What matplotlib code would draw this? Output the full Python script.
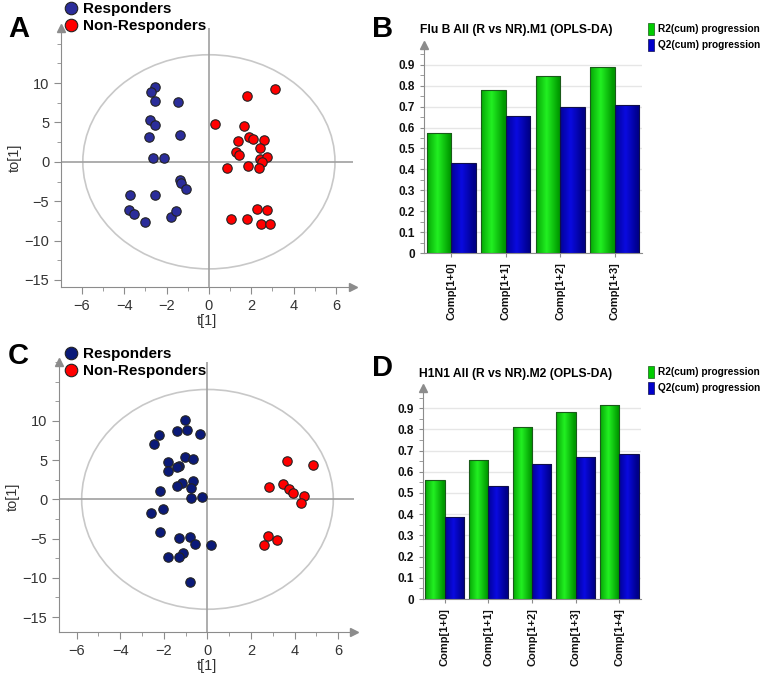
import matplotlib
matplotlib.use('Agg')
import matplotlib.pyplot as plt
from matplotlib.patches import Ellipse
from matplotlib.lines import Line2D
from matplotlib.patches import Rectangle
from matplotlib.ticker import MultipleLocator
import numpy as np

plt.rcParams['font.family'] = ['Liberation Sans', 'DejaVu Sans']

# panel A - Flu B score plot
a_resp_t = [-2.55, -2.74, -2.55, -1.45, -2.79, -2.55, -2.82, -1.38, -2.63, -2.12,
            -1.35, -1.30, -1.06, -3.74, -2.55, -3.78, -3.53, -3.01, -1.81, -1.53]
a_resp_to = [9.45, 8.86, 7.76, 7.55, 5.35, 4.67, 3.10, 3.40, 0.44, 0.44,
             -2.36, -2.64, -3.50, -4.16, -4.16, -6.07, -6.66, -7.64, -7.06, -6.20]
a_non_t = [3.13, 1.80, 0.29, 1.67, 1.88, 2.07, 1.39, 2.61, 2.39, 1.27, 1.41, 2.42,
           2.72, 2.52, 1.84, 2.37, 0.85, 2.25, 2.74, 1.06, 1.80, 2.47, 2.88]
a_non_to = [9.23, 8.31, 4.84, 4.50, 3.10, 2.93, 2.60, 2.81, 1.75, 1.20, 0.82, 0.40,
            0.57, 0.02, -0.49, -0.84, -0.84, -6.03, -6.16, -7.22, -7.30, -7.94, -7.94]

# panel C - H1N1 score plot
c_resp_t = [-1.03, -1.38, -0.94, -0.34, -2.22, -2.45, -1.05, -0.65, -1.83, -1.32,
            -1.40, -1.79, -0.65, -1.18, -1.40, -0.77, -2.19, -0.77, -0.27, -2.05,
            -2.60, -2.19, -1.31, -0.80, -0.56, 0.18, -1.14, -1.32, -1.81, -0.82]
c_resp_to = [10.08, 8.68, 8.81, 8.34, 8.25, 7.06, 5.36, 5.15, 4.72, 4.30,
             4.16, 3.66, 2.29, 2.12, 1.74, 1.44, 1.10, 0.12, 0.33, -1.19,
             -1.78, -4.21, -4.93, -4.80, -5.72, -5.80, -6.87, -7.33, -7.37, -10.57]
c_non_t = [3.67, 4.82, 2.84, 3.48, 3.73, 3.92, 4.44, 4.29, 2.79, 3.17, 2.60]
c_non_to = [4.85, 4.42, 1.53, 1.91, 1.31, 0.84, 0.46, -0.52, -4.66, -5.13, -5.77]

# panel B / D - model progression
b_comps = ['Comp[1+0]', 'Comp[1+1]', 'Comp[1+2]', 'Comp[1+3]']
b_r2 = [0.576, 0.779, 0.846, 0.892]
b_q2 = [0.430, 0.657, 0.698, 0.708]
d_comps = ['Comp[1+0]', 'Comp[1+1]', 'Comp[1+2]', 'Comp[1+3]', 'Comp[1+4]']
d_r2 = [0.560, 0.657, 0.813, 0.880, 0.913]
d_q2 = [0.387, 0.531, 0.637, 0.670, 0.682]

AXC = '#8c8c8c'
W, H = 769, 673

fig = plt.figure(figsize=(W/100, H/100), dpi=100)


def fr(x0, y0, x1, y1):
    # pixel box -> figure fraction rect
    return [x0/W, 1-y1/H, (x1-x0)/W, (y1-y0)/H]


def arrows(ax):
    ax.plot([0], [1], marker='^', color=AXC, ms=6, transform=ax.transAxes, clip_on=False)


def score_plot(ax, rt, rto, nt, nto, blue, xlim, ylim, ell):
    ax.add_patch(Ellipse((0, 0), 2*ell[0], 2*ell[1], fill=False, ec='#c8c8c8', lw=1.2))
    ax.axhline(0, color='#a0a0a0', lw=1.2)
    ax.axvline(0, color='#a0a0a0', lw=1.2)
    ax.scatter(rt, rto, s=46, c=blue, edgecolors='#222222', linewidths=0.8, zorder=3)
    ax.scatter(nt, nto, s=46, c='#ff0000', edgecolors='#222222', linewidths=0.8, zorder=3)
    ax.set_xlim(*xlim)
    ax.set_ylim(*ylim)
    ax.set_xticks([-6, -4, -2, 0, 2, 4, 6])
    ax.set_yticks([-15, -10, -5, 0, 5, 10])
    ax.xaxis.set_minor_locator(MultipleLocator(1))
    ax.yaxis.set_minor_locator(MultipleLocator(2.5))
    for s in ['top', 'right']:
        ax.spines[s].set_visible(False)
    for s in ['left', 'bottom']:
        ax.spines[s].set_color(AXC)
    ax.tick_params(which='both', colors=AXC, labelcolor='#333333', labelsize=10.5)
    ax.tick_params(which='major', length=5)
    ax.tick_params(which='minor', length=3)
    ax.set_xlabel('t[1]', fontsize=10.5, color='#333333', labelpad=1)
    ax.set_ylabel('to[1]', fontsize=10.5, color='#333333', labelpad=2)
    arrows(ax)
    ax.plot([1], [0], marker='>', color=AXC, ms=6, transform=ax.transAxes, clip_on=False)


def grad_bars(ax, bars, dark, light):
    g = np.abs(np.linspace(-1, 1, 64) + 0.15)
    g = np.clip(g, 0, 1)[None, :]
    dark = np.array(matplotlib.colors.to_rgb(dark))
    light = np.array(matplotlib.colors.to_rgb(light))
    img = dark[None, None, :]*g[..., None] + light[None, None, :]*(1-g[..., None])
    for b in bars:
        x, y = b.get_x(), b.get_y()
        w, h = b.get_width(), b.get_height()
        im = ax.imshow(img, extent=[x, x+w, y, y+h], aspect='auto', zorder=2,
                       interpolation='bilinear')
        im.set_clip_path(b)


def bar_plot(ax, comps, r2, q2, title, ty):
    x = np.arange(len(comps))
    w = 0.445
    br = ax.bar(x - w/2, r2, w, color='#00cc00', edgecolor='#1a5a1a', lw=0.8, zorder=3)
    bq = ax.bar(x + w/2, q2, w, color='#0000cc', edgecolor='#10104a', lw=0.8, zorder=3)
    for b in list(br) + list(bq):
        b.set_facecolor('none')
    grad_bars(ax, br, '#009a00', '#22f022')
    grad_bars(ax, bq, '#00008a', '#0a0ae0')
    ax.set_xlim(-0.5, len(comps) - 0.5)
    ax.set_ylim(0, 0.995)
    ax.set_yticks(np.arange(0, 0.95, 0.1))
    ax.set_yticklabels(['0'] + ['%.1f' % v for v in np.arange(0.1, 0.95, 0.1)])
    ax.yaxis.set_minor_locator(MultipleLocator(0.05))
    ax.grid(axis='y', color='#e6e6e6', lw=1, zorder=0)
    ax.set_axisbelow(True)
    ax.set_xticks(x)
    ax.set_xticklabels(comps, rotation=90, fontsize=8, fontweight='bold')
    for s in ['top', 'right']:
        ax.spines[s].set_visible(False)
    for s in ['left', 'bottom']:
        ax.spines[s].set_color(AXC)
    ax.tick_params(which='both', colors=AXC, labelcolor='#111111', length=3)
    ax.tick_params(axis='y', labelsize=8.5)
    for t in ax.get_yticklabels():
        t.set_fontweight('bold')
    ax.text(-0.02, ty, title, transform=ax.transAxes, fontsize=8.7, fontweight='bold',
            ha='left', va='center')
    arrows(ax)


axA = fig.add_axes(fr(61, 28, 353, 287))
score_plot(axA, a_resp_t, a_resp_to, a_non_t, a_non_to, '#2b2d9a',
           (-6.98, 6.8), (-15.9, 17.0), (5.95, 13.6))
axC = fig.add_axes(fr(59, 362, 354, 632))
score_plot(axC, c_resp_t, c_resp_to, c_non_t, c_non_to, '#0b1a78',
           (-6.81, 6.72), (-16.9, 17.5), (5.77, 14.0))

axB = fig.add_axes(fr(424, 45, 642, 253))
bar_plot(axB, b_comps, b_r2, b_q2, 'Flu B All (R vs NR).M1 (OPLS-DA)', 1.072)
axD = fig.add_axes(fr(423, 388, 641, 599))
bar_plot(axD, d_comps, d_r2, d_q2, 'H1N1 All (R vs NR).M2 (OPLS-DA)', 1.066)


def score_legend(y0, blue):
    h = [Line2D([], [], ls='', marker='o', ms=9, mfc=blue, mec='#222222', mew=0.8),
         Line2D([], [], ls='', marker='o', ms=9, mfc='#ff0000', mec='#222222', mew=0.8)]
    fig.legend(h, ['Responders', 'Non-Responders'], loc='upper left',
               bbox_to_anchor=(64/W, 1 - y0/H), frameon=False, borderpad=0,
               borderaxespad=0, handlelength=0.9, handletextpad=0.35,
               labelspacing=0.2, prop={'weight': 'bold', 'size': 11})


def bar_legend(y0):
    h = [Rectangle((0, 0), 1, 1, fc='#00cc00', ec='#1a5a1a', lw=0.5),
         Rectangle((0, 0), 1, 1, fc='#0000cc', ec='#10104a', lw=0.5)]
    fig.legend(h, ['R2(cum) progression', 'Q2(cum) progression'], loc='upper left',
               bbox_to_anchor=(648/W, 1 - y0/H), frameon=False, borderpad=0,
               borderaxespad=0, handlelength=0.6, handleheight=1.4, handletextpad=0.4,
               labelspacing=0.45, prop={'weight': 'bold', 'size': 7.3})


score_legend(2, '#2b2d9a')
score_legend(347, '#0b1a78')
bar_legend(23)
bar_legend(366)

for lab, x, y in [('A', 8, 29), ('B', 372, 29), ('C', 8, 356), ('D', 372, 368)]:
    fig.text(x/W, 1 - y/H, lab, fontsize=21, fontweight='bold', va='center', ha='left')

fig.savefig('out.png', dpi=100)
